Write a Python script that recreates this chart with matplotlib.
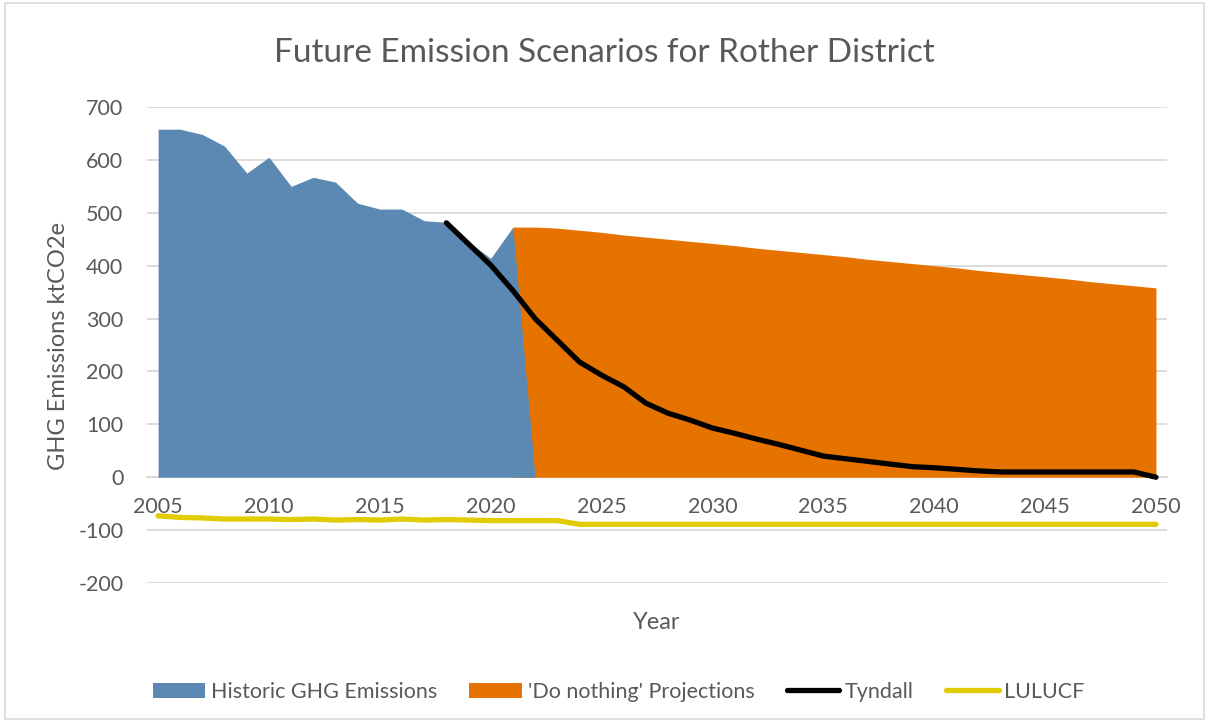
"""Future emission scenarios for Rother District (area + line chart)."""

import matplotlib
matplotlib.use("Agg")
import matplotlib.pyplot as plt
from matplotlib.lines import Line2D
from matplotlib.patches import Patch, Rectangle

# --- data ---
hist_years = list(range(2005, 2023))
hist_vals = [658, 658, 648, 626, 575, 605, 550, 567, 558, 518,
             507, 507, 485, 482, 445, 414, 473, 0]

proj_years = list(range(2021, 2051))
proj_vals = [473, 473, 471, 467, 463, 458, 454, 450, 446, 442,
             438, 433, 429, 425, 421, 417, 412, 408, 404, 400,
             396, 391, 387, 383, 379, 375, 370, 366, 362, 358]

tyndall_years = list(range(2018, 2051))
tyndall_vals = [481, 441, 401, 353, 300, 259, 218, 193, 171, 140,
                121, 108, 93, 83, 72, 62, 51, 40, 35, 30,
                25, 20, 18, 15, 12, 10, 10, 10, 10, 10,
                10, 10, 0]

lulucf_years = list(range(2005, 2051))
lulucf_vals = [-73, -76, -77, -79, -79, -79, -80, -79, -81, -80,
               -81, -79, -81, -80, -81, -82, -82, -82, -82] + [-89] * 27

x_ticks = list(range(2005, 2051, 5))
y_ticks = list(range(-200, 701, 100))

series_names = ["Historic GHG Emissions", "'Do nothing' Projections",
                "Tyndall", "LULUCF"]

BLUE = "#5b89b3"
ORANGE = "#e67300"
BLACK = "#000000"
YELLOW = "#e0cc00"
GREY_TXT = "#595959"
GRID = "#d9d9d9"
FONT = "Lato"

plt.rcParams["font.family"] = [FONT, "DejaVu Sans"]
plt.rcParams["axes.unicode_minus"] = False

fig = plt.figure(figsize=(12.09, 7.22), dpi=100)
ax = fig.add_axes([0.1216, 0.1925, 0.8437, 0.6593])

ax.fill_between(proj_years, proj_vals, 0, color=ORANGE, lw=0, zorder=2)
ax.fill_between(hist_years, hist_vals, 0, color=BLUE, lw=0, zorder=3)
ax.plot(tyndall_years, tyndall_vals, color=BLACK, lw=3.8,
        solid_joinstyle="round", solid_capstyle="round", zorder=5)
ax.plot(lulucf_years, lulucf_vals, color=YELLOW, lw=3.8,
        solid_joinstyle="round", solid_capstyle="round", zorder=5)

ax.set_xlim(2004.5, 2050.5)
ax.set_ylim(-200, 700)
ax.set_yticks(y_ticks)
ax.set_xticks(x_ticks)
ax.grid(axis="y", color=GRID, lw=1.3, zorder=0)
ax.set_axisbelow(True)

for side in ["top", "right", "left"]:
    ax.spines[side].set_visible(False)
ax.spines["bottom"].set_position(("data", 0))
ax.spines["bottom"].set_color(GRID)
ax.spines["bottom"].set_linewidth(1.3)
ax.spines["bottom"].set_zorder(1)

ax.tick_params(axis="y", length=0, pad=17, labelsize=15.5, labelcolor=GREY_TXT)
ax.tick_params(axis="x", length=0, pad=14, labelsize=15.5, labelcolor=GREY_TXT)

fig.text(0.5, 0.926, "Future Emission Scenarios for Rother District",
         ha="center", va="center", fontsize=24, color=GREY_TXT)
fig.text(0.5434, 0.1385, "Year", ha="center", va="center",
         fontsize=17, color=GREY_TXT)
fig.text(0.048, 0.521, "GHG Emissions ktCO2e", ha="center", va="center",
         rotation=90, fontsize=17, color=GREY_TXT)

handles = [
    Patch(facecolor=BLUE, edgecolor="none"),
    Patch(facecolor=ORANGE, edgecolor="none"),
    Line2D([], [], color=BLACK, lw=3.8, solid_capstyle="round"),
    Line2D([], [], color=YELLOW, lw=3.8, solid_capstyle="round"),
]
fig.legend(handles, series_names, loc="center", ncol=4,
           bbox_to_anchor=(0.5116, 0.042), frameon=False, fontsize=15.5,
           labelcolor=GREY_TXT, handlelength=2.45, handleheight=0.7,
           handletextpad=0.25, columnspacing=1.5)

fig.patches.append(Rectangle((0.004, 0.004), 0.992, 0.992,
                             transform=fig.transFigure, fill=False,
                             edgecolor=GRID, lw=1.2))

fig.savefig("out.png", dpi=100)
